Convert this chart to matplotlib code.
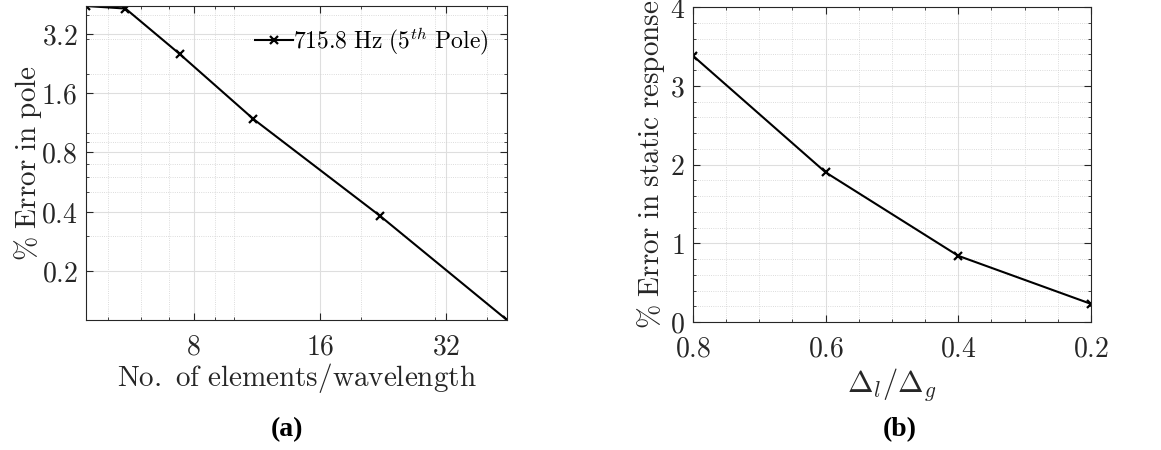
import numpy as np
import matplotlib
matplotlib.use('Agg')
import matplotlib.pyplot as plt
from matplotlib.ticker import FixedLocator, FixedFormatter, LogLocator, NullFormatter, MultipleLocator

plt.rcParams['mathtext.fontset'] = 'cm'
plt.rcParams['font.family'] = 'DejaVu Serif'

# (a) pole error vs mesh density (log-log)
elems_per_wl = [4.43, 5.5, 7.4, 11.1, 22.2, 44.6]
pole_error = [4.43, 4.30, 2.53, 1.18, 0.381, 0.1125]
x_ticks_a = [8, 16, 32]
y_ticks_a = [0.2, 0.4, 0.8, 1.6, 3.2]
legend_a = r'$\mathrm{715.8\ Hz\ (5}^{th}\mathrm{\ Pole)}$'

# (b) static response error vs local/global mesh ratio
ratio = [0.8, 0.6, 0.4, 0.2]
static_error = [3.38, 1.90, 0.84, 0.23]
x_ticks_b = [0.8, 0.6, 0.4, 0.2]
y_ticks_b = [0, 1, 2, 3, 4]

W, H = 1161, 450
fig = plt.figure(figsize=(W / 100, H / 100), dpi=100)

spine_col = '#262626'
fs = 20


def mt(s):
    return r'$\mathrm{' + s + '}$'


def style(ax):
    for s in ax.spines.values():
        s.set_color(spine_col)
        s.set_linewidth(0.8)
    ax.tick_params(which='both', direction='in', top=True, right=True,
                   colors=spine_col, labelsize=fs, labelcolor='#262626')
    ax.tick_params(which='major', length=5)
    ax.tick_params(which='minor', length=2.5)
    ax.tick_params(axis='x', which='major', pad=10)
    ax.tick_params(axis='y', which='major', pad=6)
    ax.grid(True, which='major', color='#dedede', lw=0.8)
    ax.grid(True, which='minor', color='#d0d0d0', lw=0.6, ls=':')
    ax.set_axisbelow(True)


# ---- panel (a)
ax1 = fig.add_axes([86 / W, 1 - 320 / H, 421 / W, 314 / H])
ax1.plot(elems_per_wl, pole_error, color='k', lw=1.5, marker='x', ms=6, mew=1.6,
         label=legend_a)
ax1.set_xscale('log')
ax1.set_yscale('log')
ax1.set_xlim(elems_per_wl[0], elems_per_wl[-1])
ax1.set_ylim(pole_error[-1], pole_error[0])
ax1.xaxis.set_major_locator(FixedLocator(x_ticks_a))
ax1.xaxis.set_major_formatter(FixedFormatter([mt(str(v)) for v in x_ticks_a]))
ax1.yaxis.set_major_locator(FixedLocator(y_ticks_a))
ax1.yaxis.set_major_formatter(FixedFormatter([mt(str(v)) for v in y_ticks_a]))
ax1.xaxis.set_minor_locator(LogLocator(subs=np.arange(1, 10)))
ax1.yaxis.set_minor_locator(LogLocator(subs=np.arange(1, 10)))
ax1.xaxis.set_minor_formatter(NullFormatter())
ax1.yaxis.set_minor_formatter(NullFormatter())
style(ax1)
ax1.set_xlabel(mt(r'No.\ of\ elements/wavelength'), fontsize=21, color='#262626', labelpad=0)
ax1.set_ylabel(mt(r'\%\ Error\ in\ pole'), fontsize=21, color='#262626', labelpad=-2)
ax1.legend(loc='upper right', frameon=False, fontsize=17, handlelength=1.6,
           handletextpad=0.0, borderaxespad=0.4)

# ---- panel (b)
ax2 = fig.add_axes([693 / W, 1 - 322 / H, 398 / W, 315 / H])
ax2.plot(ratio, static_error, color='k', lw=1.5, marker='x', ms=6, mew=1.6)
ax2.set_xlim(0.8, 0.2)
ax2.set_ylim(0, 4)
ax2.xaxis.set_major_locator(FixedLocator(x_ticks_b))
ax2.xaxis.set_major_formatter(FixedFormatter([mt(str(v)) for v in x_ticks_b]))
ax2.yaxis.set_major_locator(FixedLocator(y_ticks_b))
ax2.yaxis.set_major_formatter(FixedFormatter([mt(str(v)) for v in y_ticks_b]))
ax2.xaxis.set_minor_locator(MultipleLocator(0.05))
ax2.yaxis.set_minor_locator(MultipleLocator(0.2))
style(ax2)
ax2.set_xlabel(r'$\Delta_l/\Delta_g$', fontsize=22, color='#262626', labelpad=2)
ax2.set_ylabel(mt(r'\%\ Error\ in\ static\ response'), fontsize=21, color='#262626', labelpad=2)

fig.text(287 / W, 1 - 430 / H, '(a)', fontsize=20, fontweight='bold',
         family='Liberation Serif', ha='center', va='center')
fig.text(900 / W, 1 - 430 / H, '(b)', fontsize=20, fontweight='bold',
         family='Liberation Serif', ha='center', va='center')

fig.savefig('out.png', dpi=100)
